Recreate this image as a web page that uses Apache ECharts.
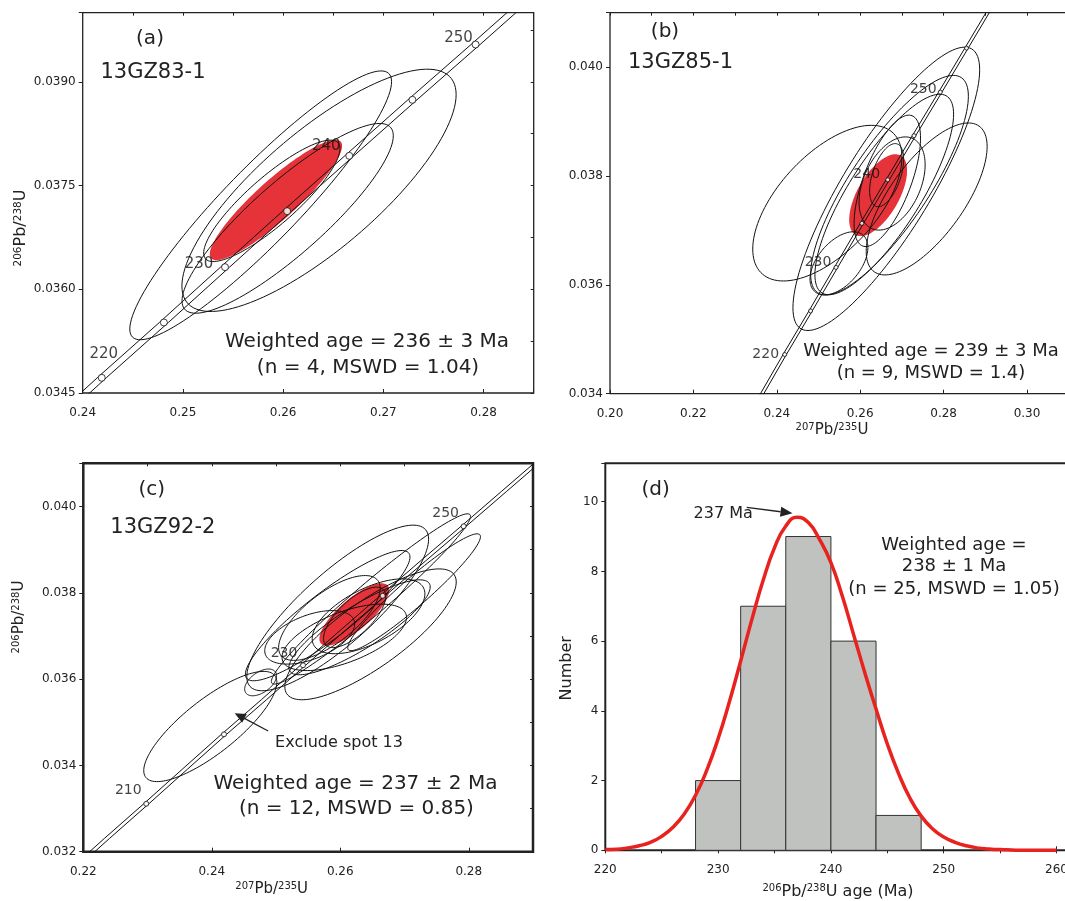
<!DOCTYPE html>
<html>
<head>
<meta charset="utf-8">
<script src="https://cdn.jsdelivr.net/npm/echarts@6/dist/echarts.min.js"></script>
<style>
html, body { margin: 0; padding: 0; background: #fff; }
#main { width: 1065px; height: 901px; }
</style>
</head>
<body>
<div id="main"></div>
<script>
// concordia reference points: age (Ma), 207Pb/235U, 206Pb/238U
var concAge = [200, 205, 210, 215, 220, 225, 230, 235, 240, 245, 250, 255, 260, 265];
var concX = [0.2177, 0.2237, 0.2298, 0.2358, 0.2419, 0.2481, 0.2542, 0.2604, 0.2666, 0.2729, 0.2792, 0.2855, 0.2918, 0.2982];
var concY = [0.03151, 0.03231, 0.03311, 0.03391, 0.03472, 0.03552, 0.03632, 0.03713, 0.03793, 0.03874, 0.03954, 0.04035, 0.04116, 0.04197];

// which ages get a marker / a label in each panel
var markA = [220, 225, 230, 235, 240, 245, 250];
var markB = [220, 225, 230, 235, 240, 245, 250, 255];
var markC = [210, 220, 230, 240, 250];
var tagA = [220, 230, 240, 250];
var tagB = [220, 230, 240, 250];
var tagC = [210, 230, 250];

// error ellipses: [x, y, 2s x, 2s y, rho]
var ellipsesA = [
  [0.25776, 0.037214, 0.01306, 0.001944, 0.92],
  [0.26358, 0.037431, 0.01368, 0.001752, 0.79],
  [0.26045, 0.037026, 0.01054, 0.001372, 0.87],
  [0.25887, 0.037279, 0.00680, 0.000878, 0.86]
];
var meanA = [[0.25928, 0.037291, 0.00660, 0.000870, 0.90]];

var ellipsesB = [
  [0.25212, 0.037501, 0.01789, 0.001430, 0.59],
  [0.27594, 0.037578, 0.01450, 0.001396, 0.69],
  [0.26626, 0.037764, 0.02239, 0.002603, 0.84],
  [0.26703, 0.037831, 0.01891, 0.002017, 0.81],
  [0.26577, 0.037660, 0.01663, 0.001842, 0.80],
  [0.26650, 0.037911, 0.00797, 0.001207, 0.65],
  [0.26765, 0.037862, 0.00792, 0.000856, 0.40],
  [0.26634, 0.038015, 0.00408, 0.000580, 0.50],
  [0.25490, 0.036395, 0.00694, 0.000580, 0.50]
];
var meanB = [[0.26430, 0.037648, 0.00694, 0.000752, 0.60]];

var ellipsesC = [
  [0.25960, 0.037648, 0.01415, 0.001919, 0.83],
  [0.26471, 0.037037, 0.01334, 0.001516, 0.80],
  [0.27149, 0.038012, 0.01033, 0.001354, 0.95],
  [0.26477, 0.037857, 0.01550, 0.001973, 0.97],
  [0.25804, 0.037470, 0.01281, 0.001509, 0.90],
  [0.24760, 0.035923, 0.00248, 0.000310, 0.50],
  [0.25831, 0.037416, 0.00791, 0.000983, 0.70],
  [0.26440, 0.037455, 0.00877, 0.000867, 0.60],
  [0.25524, 0.036967, 0.00700, 0.000620, 0.50],
  [0.26062, 0.036967, 0.00969, 0.000770, 0.60],
  [0.26224, 0.037430, 0.00484, 0.000700, 0.70],
  [0.26300, 0.037200, 0.01100, 0.001100, 0.85]
];
var excludedC = [[0.23977, 0.034901, 0.01036, 0.001277, 0.80]];
var meanC = [[0.26218, 0.037497, 0.00543, 0.000723, 0.78]];

// histogram of 206Pb/238U ages
var binLo = [228, 232, 236, 240, 244];
var binHi = [232, 236, 240, 244, 248];
var binCount = [2, 7, 9, 6, 1];
var curveAge = [220, 221, 222, 223, 224, 225, 226, 227, 228, 229, 230, 231, 232, 233, 234, 235, 236, 237, 238, 239, 240,
  241, 242, 243, 244, 245, 246, 247, 248, 249, 250, 251, 252, 253, 254, 255, 256, 257, 258, 259, 260];
var curveN = [0.02, 0.03, 0.07, 0.13, 0.23, 0.40, 0.66, 1.04, 1.58, 2.30, 3.20, 4.26, 5.43, 6.63, 7.75, 8.68, 9.30, 9.55, 9.40, 8.91, 8.25,
  7.30, 6.20, 5.10, 4.05, 3.05, 2.20, 1.50, 0.98, 0.62, 0.38, 0.23, 0.13, 0.07, 0.04, 0.02, 0.01, 0, 0, 0, 0];

var FONT = "'DejaVu Sans', sans-serif";
var INK = '#222';
var RED = '#e63339';

var chart = echarts.init(document.getElementById('main'));

var grids = [
  { left: 82.7, top: 12.7, width: 451, height: 380.3, bw: 1.3 },
  { left: 610, top: 12.7, width: 458.7, height: 381, bw: 1.3 },
  { left: 83.3, top: 463.3, width: 449.7, height: 388.4, bw: 2.5 },
  { left: 605.3, top: 463.3, width: 473.8, height: 387, bw: 2 }
];
var xSpec = [
  { min: 0.24, max: 0.285, step: 0.01, minor: 0.005, dec: 2 },
  { min: 0.20, max: 0.31, step: 0.02, minor: 0.01, dec: 2 },
  { min: 0.22, max: 0.29, step: 0.02, minor: 0.01, dec: 2 },
  { min: 220, max: 262, step: 10, minor: 5, dec: 0 }
];
var ySpec = [
  { min: 0.0345, max: 0.0400, step: 0.0015, minor: 0.00075, dec: 4 },
  { min: 0.034, max: 0.041, step: 0.002, minor: 0.001, dec: 3 },
  { min: 0.032, max: 0.041, step: 0.002, minor: 0.001, dec: 3 },
  { min: 0, max: 11.1, step: 2, minor: 1, dec: 0 }
];

function onStep(v, s) {
  var k = (v - s.min) / s.step;
  return Math.abs(k - Math.round(k)) < 1e-6;
}

var xAxes = [], yAxes = [];
grids.forEach(function (g, i) {
  var xs = xSpec[i], ys = ySpec[i];
  // main axes with labels
  xAxes.push({
    type: 'value', gridIndex: i, min: xs.min, max: xs.max, interval: xs.step,
    axisLine: { show: false }, splitLine: { show: false },
    axisTick: { inside: true, length: 4, lineStyle: { color: INK, width: 1 } },
    axisLabel: {
      margin: 14, fontSize: 12, color: INK, fontFamily: FONT,
      formatter: function (v) { return onStep(v, xs) ? v.toFixed(xs.dec) : ''; }
    }
  });
  yAxes.push({
    type: 'value', gridIndex: i, min: ys.min, max: ys.max, interval: ys.step,
    axisLine: { show: false }, splitLine: { show: false },
    axisTick: { inside: false, length: 4, lineStyle: { color: INK, width: 1 } },
    axisLabel: {
      margin: 7, fontSize: 12, color: INK, fontFamily: FONT,
      formatter: function (v) { return onStep(v, ys) ? v.toFixed(ys.dec) : ''; }
    }
  });
  // minor tick axes
  xAxes.push({
    type: 'value', gridIndex: i, min: xs.min, max: xs.max, interval: xs.minor,
    axisLine: { show: false }, splitLine: { show: false }, axisLabel: { show: false },
    axisTick: { inside: true, length: 3, lineStyle: { color: INK, width: 1 } }
  });
  yAxes.push({
    type: 'value', gridIndex: i, min: ys.min, max: ys.max, interval: ys.minor,
    axisLine: { show: false }, splitLine: { show: false }, axisLabel: { show: false },
    axisTick: { inside: true, length: 3, lineStyle: { color: INK, width: 1 } }
  });
});

function ellipseSeries(gi, data, fill, stroke, z) {
  return {
    type: 'custom', xAxisIndex: gi * 2, yAxisIndex: gi * 2, data: data, z: z, silent: true, clip: true,
    encode: { x: 0, y: 1 },
    renderItem: function (params, api) {
      var cx = api.value(0), cy = api.value(1), sx = api.value(2), sy = api.value(3), r = api.value(4);
      var q = Math.sqrt(1 - r * r), pts = [];
      for (var i = 0; i < 120; i++) {
        var t = i / 120 * 2 * Math.PI;
        pts.push(api.coord([cx + sx * Math.cos(t), cy + sy * (r * Math.cos(t) + q * Math.sin(t))]));
      }
      return { type: 'polygon', shape: { points: pts }, style: { fill: fill, stroke: stroke, lineWidth: 1 } };
    }
  };
}

// the two lines of the concordia error band
function bandSeries(gi, half) {
  return [-half, half].map(function (d) {
    return {
      type: 'line', xAxisIndex: gi * 2, yAxisIndex: gi * 2, z: 2, silent: true,
      symbol: 'none', clip: true,
      lineStyle: { color: '#111', width: 1 },
      data: concAge.map(function (a, i) { return [concX[i] + d, concY[i]]; })
    };
  });
}

function markerSeries(gi, ages, tags, offsets, size, fsize) {
  return {
    type: 'scatter', xAxisIndex: gi * 2, yAxisIndex: gi * 2, z: 5, silent: true,
    symbol: 'circle', symbolSize: size,
    itemStyle: { color: '#fff', borderColor: '#111', borderWidth: 1 },
    data: ages.map(function (a) {
      var i = concAge.indexOf(a);
      var item = { value: [concX[i], concY[i]] };
      if (tags.indexOf(a) >= 0) {
        item.label = {
          show: true, position: 'inside', formatter: String(a), offset: offsets[a],
          fontSize: fsize, color: '#111', fontFamily: FONT
        };
      }
      return item;
    })
  };
}

var series = [];
// (a)
series.push(ellipseSeries(0, meanA, RED, 'none', 1));
series = series.concat(bandSeries(0, 0.00045));
series.push(ellipseSeries(0, ellipsesA, 'none', '#111', 3));
series.push(markerSeries(0, markA, tagA, { 220: [2, -24], 230: [-26, -3], 240: [-23, -10], 250: [-17, -6] }, 7, 15));
// (b)
series.push(ellipseSeries(1, meanB, RED, 'none', 1));
series = series.concat(bandSeries(1, 0.0004));
series.push(ellipseSeries(1, ellipsesB, 'none', '#111', 3));
series.push(markerSeries(1, markB, tagB, { 220: [-19, 0], 230: [-18, -5], 240: [-21, -5], 250: [-17, -3] }, 4, 14));
// (c)
series.push(ellipseSeries(2, meanC, RED, 'none', 1));
series = series.concat(bandSeries(2, 0.0004));
series.push(ellipseSeries(2, ellipsesC, 'none', '#111', 3));
series.push(ellipseSeries(2, excludedC, 'none', '#111', 3));
series.push(markerSeries(2, markC, tagC, { 210: [-18, -13], 230: [-19, -12], 250: [-18, -13] }, 5, 14));
// (d) histogram + probability curve
series.push({
  type: 'custom', xAxisIndex: 6, yAxisIndex: 6, z: 1, silent: true,
  encode: { x: [0, 1], y: 2 },
  data: binLo.map(function (lo, i) { return [lo, binHi[i], binCount[i]]; }),
  renderItem: function (params, api) {
    var p0 = api.coord([api.value(0), api.value(2)]);
    var p1 = api.coord([api.value(1), 0]);
    return {
      type: 'rect',
      shape: { x: p0[0], y: p0[1], width: p1[0] - p0[0], height: p1[1] - p0[1] },
      style: { fill: '#c0c2c0', stroke: '#333', lineWidth: 1 }
    };
  }
});
series.push({
  type: 'line', xAxisIndex: 6, yAxisIndex: 6, z: 4, silent: true,
  smooth: true, symbol: 'none', clip: true,
  lineStyle: { color: '#e8231f', width: 3.5 },
  data: curveAge.map(function (a, i) { return [a, curveN[i]]; })
});

function txt(x, y, text, size, extra) {
  var o = {
    type: 'text', x: x, y: y, z: 10, silent: true,
    style: { text: text, fontSize: size, fontFamily: FONT, fill: INK, align: 'center', verticalAlign: 'middle' }
  };
  if (extra) { for (var k in extra) o[k] = extra[k]; }
  return o;
}
function ratioText(x, y, text, size, sup, rotate) {
  var o = txt(x, y, text, size, rotate ? { rotation: Math.PI / 2 } : null);
  o.style.rich = { s: { fontSize: sup, verticalAlign: 'top', fontFamily: FONT, fill: INK } };
  return o;
}
function arrow(x0, y0, x1, y1, len, wid) {
  var dx = x1 - x0, dy = y1 - y0, L = Math.sqrt(dx * dx + dy * dy);
  var ux = dx / L, uy = dy / L;
  var bx = x1 - ux * len, by = y1 - uy * len;
  return [
    { type: 'line', z: 10, silent: true, shape: { x1: x0, y1: y0, x2: bx, y2: by }, style: { stroke: INK, lineWidth: 1.3 } },
    { type: 'polygon', z: 10, silent: true, shape: { points: [[x1, y1], [bx - uy * wid, by + ux * wid], [bx + uy * wid, by - ux * wid]] }, style: { fill: INK } }
  ];
}

var graphics = [
  txt(150, 39, '(a)', 20),
  txt(153, 73, '13GZ83-1', 21),
  txt(367, 342, 'Weighted age = 236 ± 3 Ma', 20),
  txt(368, 368, '(n = 4, MSWD = 1.04)', 20),
  ratioText(20.5, 228, '{s|206}Pb/{s|238}U', 16, 10.5, true),

  txt(665, 32, '(b)', 20),
  txt(680.5, 63, '13GZ85-1', 21),
  txt(931, 351, 'Weighted age = 239 ± 3 Ma', 18),
  txt(931, 373, '(n = 9, MSWD = 1.4)', 18),
  ratioText(832, 430, '{s|207}Pb/{s|235}U', 15, 10),

  txt(151.7, 490, '(c)', 20),
  txt(162.8, 528, '13GZ92-2', 21),
  txt(339, 743, 'Exclude spot 13', 16),
  txt(355.4, 784, 'Weighted age = 237 ± 2 Ma', 20),
  txt(356.4, 809, '(n = 12, MSWD = 0.85)', 20),
  ratioText(19.4, 617, '{s|206}Pb/{s|238}U', 15, 10, true),
  ratioText(271.7, 889.3, '{s|207}Pb/{s|235}U', 15, 10),

  txt(655.7, 490, '(d)', 20),
  txt(723.2, 514.3, '237 Ma', 16),
  txt(954, 545, 'Weighted age =', 18),
  txt(954, 566.7, '238 ± 1 Ma', 18),
  txt(954, 589.3, '(n = 25, MSWD = 1.05)', 18),
  txt(567.1, 668.3, 'Number', 16, { rotation: Math.PI / 2 }),
  ratioText(838, 891.7, '{s|206}Pb/{s|238}U age (Ma)', 16, 10)
];
graphics = graphics.concat(arrow(268.2, 731, 234.7, 713.3, 11, 5));
graphics = graphics.concat(arrow(746.7, 507.3, 792.5, 513.3, 12, 5));

chart.setOption({
  backgroundColor: '#fff',
  animation: false,
  grid: grids.map(function (g) {
    return {
      left: g.left, top: g.top, width: g.width, height: g.height, outerBoundsMode: 'none',
      show: true, borderColor: INK, borderWidth: g.bw, backgroundColor: 'transparent'
    };
  }),
  xAxis: xAxes,
  yAxis: yAxes,
  series: series,
  graphic: graphics
});
</script>
</body>
</html>
